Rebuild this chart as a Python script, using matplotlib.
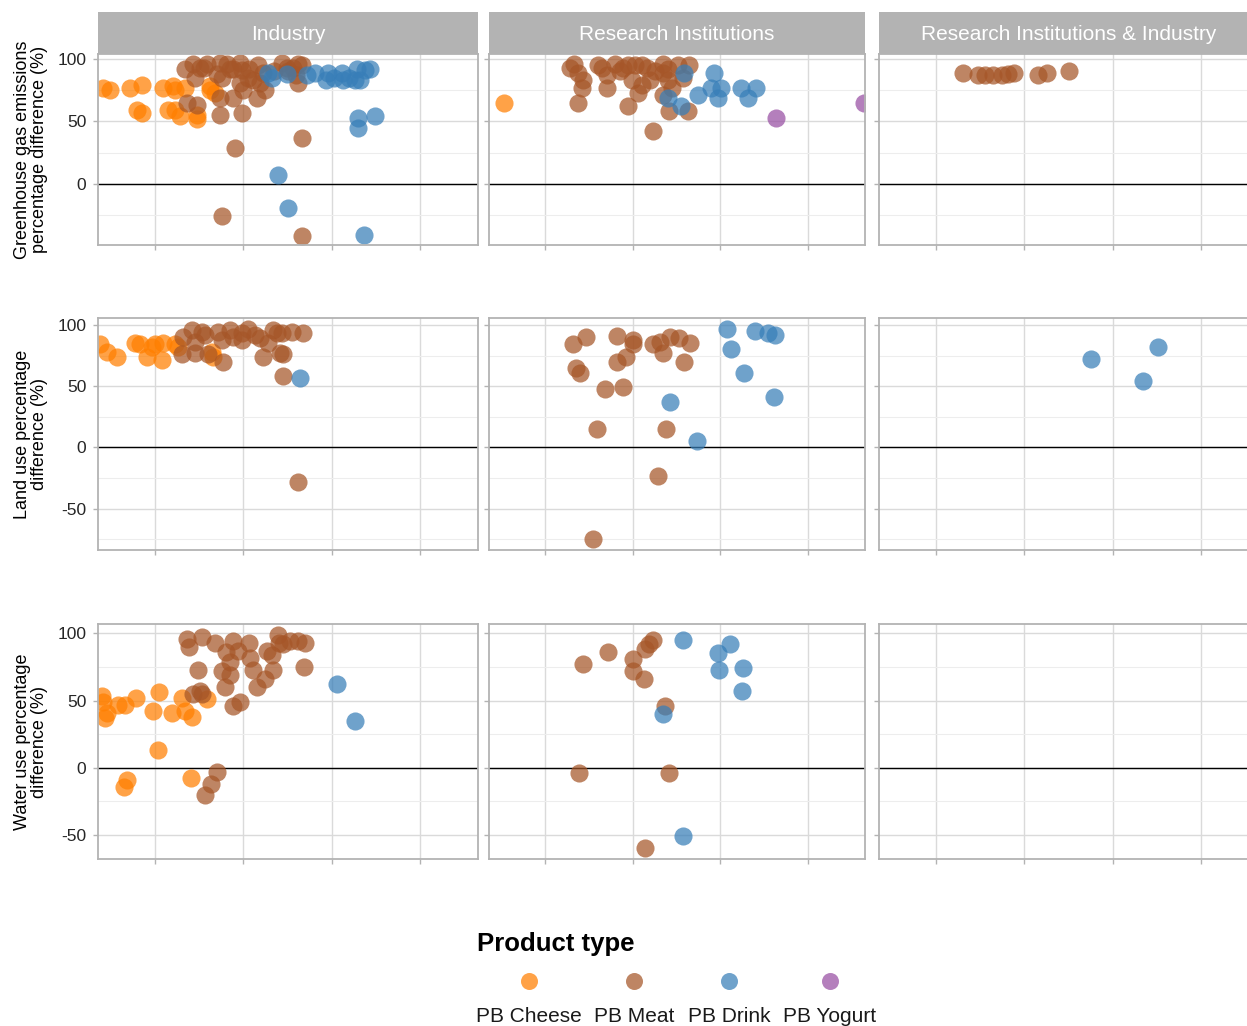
import numpy as np
import matplotlib
matplotlib.use('Agg')
import matplotlib.pyplot as plt
from matplotlib.ticker import MultipleLocator, NullFormatter

plt.rcParams['font.family'] = ['Liberation Sans', 'DejaVu Sans']
plt.rcParams['axes.unicode_minus'] = False

# product types and their colours (Set1)
products = ['PB Cheese', 'PB Meat', 'PB Drink', 'PB Yogurt']
colors = ['#FF7F00', '#A65628', '#377EB8', '#984EA3']

sources = ['Industry', 'Research Institutions', 'Research Institutions & Industry']
metrics = ['Greenhouse gas emissions\npercentage difference (%)',
           'Land use percentage\ndifference (%)',
           'Water use percentage\ndifference (%)']

# --- greenhouse gas emissions, (x, value) per study ---
ghg_ind_cheese = [(0.41, 77), (0.49, 75), (0.72, 77), (0.85, 79), (0.80, 59), (0.85, 57),
                  (1.09, 77), (1.20, 78), (1.23, 75), (1.34, 77), (1.15, 59), (1.23, 59),
                  (1.28, 54), (1.47, 55), (1.47, 52), (1.62, 78), (1.62, 75), (1.68, 73)]
ghg_ind_meat = [(1.34, 92), (1.43, 96), (1.51, 93), (1.59, 96), (1.45, 85), (1.36, 65),
                (1.47, 63), (1.74, 97), (1.81, 96), (1.76, 85), (1.74, 69), (1.74, 55),
                (1.88, 92), (1.88, 69), (1.96, 97), (1.98, 91), (1.96, 81), (2.00, 75),
                (1.98, 57), (2.05, 85), (2.11, 83), (2.17, 95), (2.15, 69), (2.25, 75),
                (2.19, 81), (2.22, 89), (2.44, 97), (2.49, 93), (2.56, 93), (2.62, 96),
                (2.66, 95), (2.62, 81), (2.59, 87), (1.55, 93), (1.70, 88), (1.85, 92),
                (2.06, 92), (2.35, 90), (2.50, 90), (2.66, 37), (1.91, 29), (1.76, -26),
                (2.66, -42)]
ghg_ind_drink = [(2.28, 89), (2.32, 85), (2.49, 88), (2.81, 89), (2.72, 87), (2.96, 89),
                 (2.93, 83), (3.02, 85), (3.12, 89), (3.13, 83), (3.19, 85), (3.29, 92),
                 (3.26, 83), (3.32, 83), (3.38, 91), (3.43, 92), (3.30, 53), (3.30, 45),
                 (3.49, 54), (2.39, 7), (2.51, -19), (3.36, -41)]
ghg_ri_cheese = [(0.53, 65)]
ghg_ri_meat = [(1.33, 96), (1.37, 89), (1.43, 83), (1.42, 77), (1.37, 65), (1.60, 95),
               (1.70, 87), (1.70, 77), (1.80, 96), (1.89, 93), (1.95, 95), (1.99, 83),
               (2.03, 95), (2.11, 95), (2.16, 93), (2.06, 73), (1.95, 62), (2.11, 79),
               (2.20, 83), (2.23, 42), (2.34, 96), (2.35, 89), (2.40, 83), (2.45, 77),
               (2.35, 71), (2.41, 58), (2.52, 95), (2.64, 95), (2.57, 85), (2.63, 58),
               (1.28, 93), (1.65, 93), (1.85, 90), (2.25, 90), (2.40, 92)]
ghg_ri_drink = [(2.58, 89), (2.93, 89), (2.89, 77), (3.01, 77), (2.97, 69), (2.74, 71),
                (2.40, 69), (2.55, 62), (3.24, 77), (3.41, 77), (3.32, 69)]
ghg_ri_yogurt = [(3.64, 53), (4.64, 65)]
ghg_both_meat = [(1.30, 89), (1.48, 87), (1.56, 87), (1.64, 87), (1.75, 87), (1.81, 88),
                 (1.88, 89), (2.15, 87), (2.26, 89), (2.50, 90)]

# --- land use ---
land_ind_cheese = [(0.38, 84), (0.46, 78), (0.57, 74), (0.77, 85), (0.83, 84), (0.91, 74),
                   (0.97, 82), (1.00, 84), (1.08, 71), (1.09, 85), (1.23, 84), (1.26, 82),
                   (1.65, 78), (1.66, 74)]
land_ind_meat = [(1.32, 90), (1.31, 76), (1.42, 96), (1.45, 86), (1.53, 94), (1.57, 92),
                 (1.45, 77), (1.60, 76), (1.71, 94), (1.76, 88), (1.77, 70), (1.85, 96),
                 (1.88, 90), (1.99, 93), (1.99, 88), (2.05, 97), (2.13, 92), (2.19, 89),
                 (2.28, 85), (2.22, 74), (2.33, 96), (2.38, 93), (2.44, 93), (2.42, 77),
                 (2.45, 76), (2.55, 94), (2.68, 93), (2.45, 58), (2.62, -28)]
land_ind_drink = [(2.64, 57)]
land_ri_meat = [(1.32, 84), (1.46, 90), (1.35, 65), (1.39, 61), (1.68, 48), (1.89, 49),
                (1.59, 15), (1.55, -75), (1.82, 91), (2.00, 88), (2.00, 84), (1.92, 74),
                (1.82, 70), (2.23, 84), (2.31, 86), (2.43, 90), (2.53, 89), (2.65, 85),
                (2.35, 77), (2.59, 70), (2.38, 15), (2.29, -23)]
land_ri_drink = [(3.08, 97), (3.40, 95), (3.55, 93), (3.63, 92), (3.12, 80), (3.27, 61),
                 (3.61, 41), (2.42, 37), (2.73, 5)]
land_both_drink = [(2.75, 72), (3.34, 54), (3.51, 82)]

# --- water use ---
water_ind_cheese = [(0.40, 53), (0.41, 49), (0.46, 41), (0.43, 37), (0.58, 47), (0.66, 47),
                    (0.78, 52), (0.98, 42), (1.05, 56), (1.19, 41), (1.31, 52), (1.34, 42),
                    (1.42, 38), (1.59, 51), (1.03, 13), (0.65, -14), (0.68, -9), (1.41, -8)]
water_ind_meat = [(1.36, 96), (1.39, 90), (1.53, 97), (1.68, 93), (1.49, 73), (1.43, 55),
                  (1.51, 57), (1.53, 55), (1.88, 94), (1.80, 86), (1.85, 79), (1.76, 72),
                  (1.85, 69), (1.79, 60), (1.88, 46), (1.96, 49), (1.94, 87), (2.06, 93),
                  (2.08, 82), (2.11, 73), (2.15, 60), (2.25, 66), (2.27, 87), (2.32, 84),
                  (2.34, 73), (2.39, 99), (2.40, 93), (2.45, 92), (2.53, 94), (2.62, 94),
                  (2.70, 93), (2.69, 75), (1.70, -3), (1.63, -12), (1.57, -20)]
water_ind_drink = [(3.06, 62), (3.26, 35)]
water_ri_meat = [(1.43, 77), (1.72, 86), (2.00, 81), (2.00, 72), (2.13, 66), (2.14, 88),
                 (2.18, 92), (2.23, 95), (2.37, 46), (1.38, -4), (2.41, -4), (2.14, -60)]
water_ri_drink = [(2.57, 95), (3.11, 92), (2.97, 85), (2.98, 73), (3.26, 74), (3.25, 57),
                  (2.35, 40), (2.57, -51)]

# panel -> {product: points}
panels = {
    (0, 0): {'PB Cheese': ghg_ind_cheese, 'PB Meat': ghg_ind_meat, 'PB Drink': ghg_ind_drink},
    (0, 1): {'PB Cheese': ghg_ri_cheese, 'PB Meat': ghg_ri_meat, 'PB Drink': ghg_ri_drink,
             'PB Yogurt': ghg_ri_yogurt},
    (0, 2): {'PB Meat': ghg_both_meat},
    (1, 0): {'PB Cheese': land_ind_cheese, 'PB Meat': land_ind_meat, 'PB Drink': land_ind_drink},
    (1, 1): {'PB Meat': land_ri_meat, 'PB Drink': land_ri_drink},
    (1, 2): {'PB Drink': land_both_drink},
    (2, 0): {'PB Cheese': water_ind_cheese, 'PB Meat': water_ind_meat, 'PB Drink': water_ind_drink},
    (2, 1): {'PB Meat': water_ri_meat, 'PB Drink': water_ri_drink},
    (2, 2): {},
}

W, H = 1247, 1026
fig = plt.figure(figsize=(W / 100, H / 100), dpi=100)

col_left = [98, 489, 879]
col_width = [380, 376, 380]
row_top = [54, 318, 624]
row_bottom = [245, 550, 859]
grey70 = '#B3B3B3'

def px_axes(x0, y0, x1, y1):
    return fig.add_axes([x0 / W, 1 - y1 / H, (x1 - x0) / W, (y1 - y0) / H])

for r in range(3):
    vals = [v for c in range(3) for pts in panels[(r, c)].values() for _, v in pts]
    lo, hi = min(vals), max(vals)
    pad = 0.05 * (hi - lo)
    for c in range(3):
        ax = px_axes(col_left[c], row_top[r], col_left[c] + col_width[c], row_bottom[r])
        ax.set_xlim(0.355, 4.655)
        ax.set_ylim(lo - pad, hi + pad)
        ax.xaxis.set_major_locator(MultipleLocator(1))
        ax.yaxis.set_major_locator(MultipleLocator(50))
        ax.yaxis.set_minor_locator(MultipleLocator(25))
        ax.grid(True, which='major', color='#DADADA', linewidth=1.0, zorder=0)
        ax.grid(True, which='minor', axis='y', color='#EDEDED', linewidth=0.8, zorder=0)
        ax.set_axisbelow(True)
        for s in ax.spines.values():
            s.set_color(grey70)
            s.set_linewidth(1.3)
        ax.tick_params(which='major', color=grey70, length=3.5, width=1.0,
                       labelsize=12.5, labelcolor='#262626', pad=5)
        ax.tick_params(which='minor', length=0)
        ax.xaxis.set_major_formatter(NullFormatter())
        if c > 0:
            ax.yaxis.set_major_formatter(NullFormatter())
        ax.axhline(0, color='black', linewidth=1.0, zorder=1)
        for prod, pts in panels[(r, c)].items():
            xs = [p[0] for p in pts]
            ys = [p[1] for p in pts]
            ax.scatter(xs, ys, s=170, color=colors[products.index(prod)], alpha=0.72,
                       linewidths=0, zorder=2)
        if r == 0:
            sax = px_axes(col_left[c], 12, col_left[c] + col_width[c], 54)
            sax.set_facecolor(grey70)
            sax.set_xticks([])
            sax.set_yticks([])
            for s in sax.spines.values():
                s.set_visible(False)
            sax.text(0.5, 0.47, sources[c], color='white', fontsize=15,
                     ha='center', va='center', transform=sax.transAxes)
    yc = (row_top[r] + row_bottom[r]) / 2
    fig.text(31 / W, 1 - yc / H, metrics[r], rotation=90, ha='center', va='center',
             multialignment='center', fontsize=13, color='black', linespacing=1.05)

# legend at the bottom: title, keys, labels under keys
lax = fig.add_axes([0, 0, 1, 1], facecolor='none')
lax.set_xlim(0, W)
lax.set_ylim(H, 0)
lax.axis('off')
lax.text(477, 944, 'Product type', fontsize=18.5, fontweight='bold', ha='left', va='center')
key_x = [529, 634, 729, 830]
for kx, prod, col in zip(key_x, products, colors):
    lax.scatter([kx], [981], s=150, color=col, alpha=0.72, linewidths=0)
    lax.text(kx, 1016, prod, fontsize=15, ha='center', va='center', color='#1A1A1A')

fig.savefig('out.png', dpi=100)
